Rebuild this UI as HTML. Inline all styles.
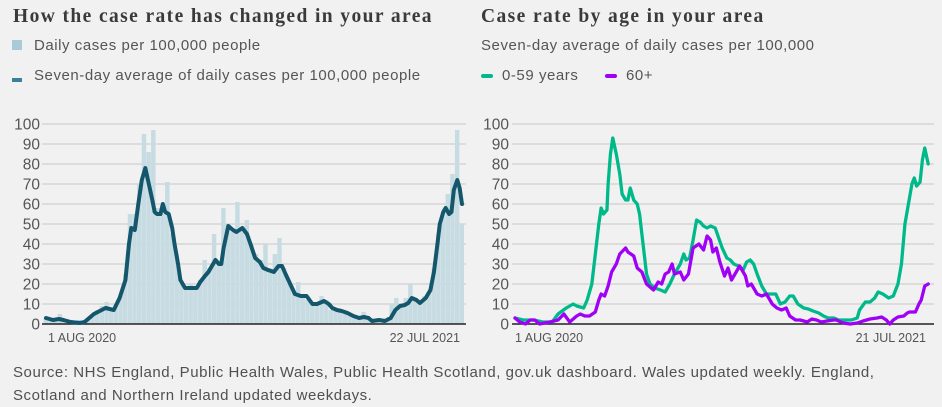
<!DOCTYPE html>
<html><head><meta charset="utf-8"><style>
body{margin:0;background:#f1f1f1;width:942px;height:407px;overflow:hidden;font-family:"Liberation Sans",sans-serif;}
.t{position:absolute;white-space:nowrap;}
h1{position:absolute;margin:0;font:bold 19.5px "Liberation Serif",serif;color:#3a3a3a;top:6px;letter-spacing:1.4px;}
.lg{font-size:15px;color:#555;letter-spacing:0.55px;}
</style></head><body>
<h1 style="left:13px">How the case rate has changed in your area</h1>
<h1 style="left:481px">Case rate by age in your area</h1>
<div class="t" style="left:12px;top:40px;width:10px;height:10px;background:#a9cbd7"></div>
<div class="t lg" style="left:34px;top:37px">Daily cases per 100,000 people</div>
<div class="t" style="left:12px;top:78px;width:10px;height:4px;background:#3b7f9c"></div>
<div class="t lg" style="left:34px;top:67px">Seven-day average of daily cases per 100,000 people</div>
<div class="t lg" style="left:481px;top:37px">Seven-day average of daily cases per 100,000</div>
<div class="t" style="left:481px;top:74px;width:12px;height:4px;border-radius:2px;background:#00b98a"></div>
<div class="t lg" style="left:502px;top:67px">0-59 years</div>
<div class="t" style="left:605px;top:74px;width:12px;height:4px;border-radius:2px;background:#a000f5"></div>
<div class="t lg" style="left:626px;top:67px">60+</div>
<div class="t lg" style="left:13px;top:361px;line-height:23px;white-space:normal;width:885px;color:#505050">Source: NHS England, Public Health Wales, Public Health Scotland, gov.uk dashboard. Wales updated weekly. England, Scotland and Northern Ireland updated weekdays.</div>
<svg id="c" width="942" height="407" style="position:absolute;left:0;top:0"></svg>
<script>
const yTicks=[0,10,20,30,40,50,60,70,80,90,100];
const barDays=[0,4,8,12,16,20,24,28,32,36,40,44,48,52,56,60,64,68,72,76,80,84,88,92,96,100,104,108,112,116,120,124,128,132,136,140,144,148,152,156,160,164,168,172,176,180,184,188,192,196,200,204,208,212,216,220,224,228,232,236,240,244,248,252,256,260,264,268,272,276,280,284,288,292,296,300,304,308,312,316,320,324,328,332,336,340,344,348,352,356];
const barVals=[3,2,2,5,2,1,1,2,1,3,5,7,9,11,8,10,14,25,55,55,70,95,86,97,58,55,71,45,35,20,17,20,18,22,32,28,45,30,58,50,46,61,48,52,40,35,32,40,28,35,43,28,22,16,21,13,12,10,9,14,12,7,8,6,5,5,3,3,6,3,2,2,2,2,10,13,10,13,20,12,10,14,16,28,45,56,65,75,97,50];
const avgDays=[0,6,11,15,21,29,33,41,46,51,58,63,68,71,73,76,79,82,85,88,91,93,95,98,100,102,105,108,110,113,115,119,123,129,132,136,139,141,145,148,150,152,156,160,163,168,172,175,179,183,186,190,195,199,202,205,209,213,218,223,228,232,238,242,245,249,253,258,263,268,272,276,279,285,290,295,299,303,307,310,313,317,320,325,329,332,335,337,340,342,345,347,349,352,354,356];
const avgVals=[3,2,2.5,2,1,0.5,1,5,6.5,8,7,13,22,40,48,47,60,72,78,70,62,56,55,55,60,56,55,48,40,30,22,18,18,18,21,24,26,28,32,30,30,38,49,47,46,48,45,40,33,31,28,27,26,29,29,25,20,15,14,14,10,10,11.5,10,8,7,6.5,5.5,4,3,3.5,3,1.5,2,1.5,3,7,9,9.5,10.5,13,12,10.5,13,17,26,40,50,56,58,55,56,67,72,68,60];
const youngDays=[0,7,16,24,32,37,44,50,53,59,62,66,69,72,74,76,79,80,82,84,87,90,92,95,97,99,102,105,107,110,113,116,120,125,129,133,137,142,145,147,150,153,156,159,162,165,168,172,175,178,182,185,188,192,196,199,202,205,208,212,216,221,224,228,232,236,239,243,248,252,256,261,265,269,274,278,284,289,294,296,301,305,309,312,316,321,325,329,332,335,338,341,343,345,348,350,352,355];
const youngVals=[3,2,2,1,1,5,8,10,9,8,12,20,35,50,58,55,57,70,85,93,85,75,65,62,62,68,62,60,55,40,25,20,18,17,16,20,25,30,35,32,33,42,52,51,49,48,49,48,43,38,33,32,30,29,27,31,32,30,25,19,15,15,15,10,11,14,14,10,8,7.5,6.5,5.5,4,3,3,2,2,2,3,7,11,11,13,16,15,13,14,20,30,50,60,70,73,69,71,82,88,80];
const oldDays=[0,4,9,13,17,21,30,37,42,47,53,56,60,64,69,72,74,77,80,83,87,90,95,97,102,105,109,113,119,123,126,129,132,135,137,142,145,149,153,158,162,165,168,170,173,176,180,183,186,190,193,198,200,203,208,212,216,221,225,229,233,236,241,245,251,255,259,263,268,274,276,282,288,294,299,305,311,315,319,322,325,329,334,337,339,344,347,349,352,355];
const oldVals=[3,1,0,2,2,0,1,2,5,1,4,5,4,4,6,12,15,14,19,26,30,35,38,36,34,28,26,20,17,21,20,25,26,30,25,26,22,25,38,40,37,44,42,36,38,31,24,28,22,26,29,24,19,20,15,14,15,10,8,7,8,4,2,2,1,2.5,2,1,1.5,2,2,0.5,0,0.5,1.5,2.5,3,3.5,2,0,2,3.5,4,5.5,6,6,10,12,19,20];

const svg=document.getElementById('c');const NS='http://www.w3.org/2000/svg';
function mk(tag,at,name){const e=document.createElementNS(NS,tag);for(const k in at)e.setAttribute(k,at[k]);


svg.appendChild(e);return e;}
const y=v=>324-v*2;
const xL=d=>46+d*1.1685;
const xR=d=>515+d*1.164;
function axes(x0,x1,lx,side){
 yTicks.forEach(t=>{
  if(t>0){mk('line',{x1:x0,x2:x1,y1:y(t),y2:y(t),stroke:'#c8c8c8','stroke-width':1},side+'-gridline');}
  const tx=mk('text',{x:lx,y:y(t)+5.5,'text-anchor':'end','font-size':15.5,fill:'#555','font-family':'Liberation Sans, sans-serif'},side+'-y-tick');tx.textContent=t;
 });
}
axes(42,466,40,'left');axes(512,934,509,'right');
barDays.forEach((d,i)=>{mk('rect',{x:xL(d)-2.4,y:y(barVals[i]),width:4.4,height:barVals[i]*2,fill:'#c6dbe2'},'bar-daily');});
mk('line',{x1:42,x2:466,y1:324,y2:324,stroke:'#222','stroke-width':1.5},'left-x-axis');
mk('line',{x1:512,x2:934,y1:324,y2:324,stroke:'#222','stroke-width':1.5},'right-x-axis');
function line(days,vals,xf,col,w,name){mk('polyline',{points:days.map((d,i)=>xf(d)+','+y(vals[i])).join(' '),fill:'none',stroke:col,'stroke-width':w,'stroke-linejoin':'round','stroke-linecap':'round'},name);}
line(avgDays,avgVals,xL,'#14566b',4,'line-seven-day-average');
line(youngDays,youngVals,xR,'#00b98a',3.3,'line-0-59-years');
line(oldDays,oldVals,xR,'#a000f5',3.3,'line-60-plus');
function lab(x,t,a,name){const e=mk('text',{x:x,y:342,'text-anchor':a,'font-size':12.5,fill:'#555','font-family':'Liberation Sans, sans-serif'},name);e.textContent=t;}
lab(48,'1 AUG 2020','start','left-x-label-start');lab(460,'22 JUL 2021','end','left-x-label-end');
lab(515,'1 AUG 2020','start','right-x-label-start');lab(926,'21 JUL 2021','end','right-x-label-end');
</script>
</body></html>
